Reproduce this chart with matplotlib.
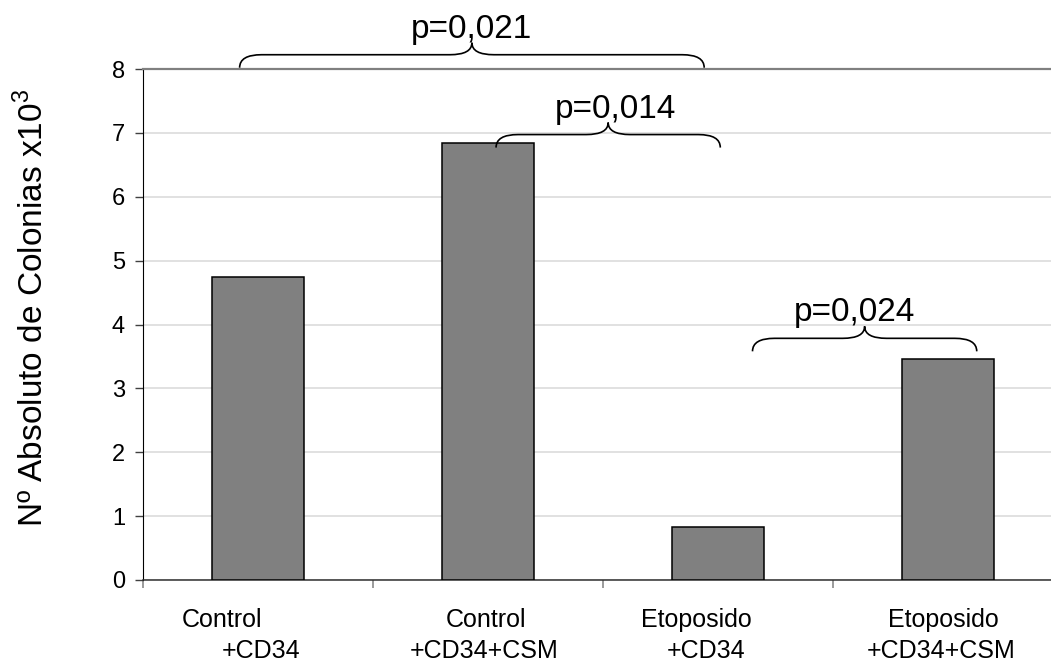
import numpy as np
import matplotlib
matplotlib.use("Agg")
import matplotlib.pyplot as plt
from matplotlib.path import Path
from matplotlib.patches import PathPatch

plt.rcParams['font.family'] = ['Liberation Sans', 'DejaVu Sans']
plt.rcParams['mathtext.fontset'] = 'custom'
plt.rcParams['mathtext.rm'] = 'Liberation Sans'

# data
line1 = ['Control', 'Control', 'Etoposido', 'Etoposido']
line2 = ['+CD34', '+CD34+CSM', '+CD34', '+CD34+CSM']
values = [4.75, 6.84, 0.83, 3.46]

# significance braces: (x start, x end, y of ends, label)
brace_x0 = [-0.08, 1.035, 2.15]
brace_x1 = [1.94, 2.01, 3.125]
brace_y = [8.02, 6.77, 3.58]
brace_labels = ['p=0,021', 'p=0,014', 'p=0,024']
label_dx = [0, 7, -10]   # px shift of the p text from the brace tip

fig = plt.figure(figsize=(10.51, 6.62), dpi=100)
ax = fig.add_axes([143 / 1051, 82 / 662, 920 / 1051, 511 / 662])

x = np.arange(len(values))
ax.bar(x, values, width=0.4, color='#808080', edgecolor='black', linewidth=1.1, zorder=3)

ax.set_xlim(-0.5, 3.5)
ax.set_ylim(0, 8)
ax.set_yticks(range(0, 9))
ax.tick_params(axis='y', labelsize=17, length=6, width=1, color='#404040', pad=7)
ax.yaxis.grid(True, color='#d9d9d9', linewidth=1.1)
ax.set_axisbelow(True)

ax.set_xticks([])
ax.set_xticks(np.arange(-0.5, 4.0, 1.0), minor=True)
ax.tick_params(axis='x', which='minor', length=6, width=1.1, color='#808080')

ax.spines['right'].set_visible(False)
ax.spines['top'].set_color('#808080')
ax.spines['top'].set_linewidth(1.6)
ax.spines['left'].set_color('black')
ax.spines['bottom'].set_color('#303030')
ax.spines['bottom'].set_linewidth(1.1)

# category labels, two lines with the excel-like stagger (offsets in px)
off1 = [-36, -2, -22, -5]
off2 = [3, -4, -12, -7]
for i in range(len(values)):
    ax.annotate(line1[i], xy=(x[i], 0), xycoords=('data', 'axes fraction'),
                xytext=(off1[i] * 0.72, -47 * 0.72), textcoords='offset points',
                ha='center', va='baseline', fontsize=18, annotation_clip=False)
    ax.annotate(line2[i], xy=(x[i], 0), xycoords=('data', 'axes fraction'),
                xytext=(off2[i] * 0.72, -78 * 0.72), textcoords='offset points',
                ha='center', va='baseline', fontsize=18, annotation_clip=False)

fig.text(33 / 1051, 1 - 308 / 662, 'Nº Absoluto de Colonias x10$^3$', rotation=90,
         ha='center', va='center', fontsize=24)


def brace(ax, x0, x1, y0, label, dx):
    # sizes in px converted to data units
    ux = 230.0
    uy = 511 / 8.0
    rx = 22 / ux
    yf = y0 + 13 / uy
    yt = y0 + 25 / uy
    xm = (x0 + x1) / 2
    verts = [(x0, y0), (x0, yf), (x0 + rx, yf),
             (xm - rx, yf), (xm, yf), (xm, yt),
             (xm, yf), (xm + rx, yf),
             (x1 - rx, yf), (x1, yf), (x1, y0)]
    codes = [Path.MOVETO, Path.CURVE3, Path.CURVE3,
             Path.LINETO, Path.CURVE3, Path.CURVE3,
             Path.CURVE3, Path.CURVE3,
             Path.LINETO, Path.CURVE3, Path.CURVE3]
    p = PathPatch(Path(verts, codes), facecolor='none', edgecolor='black',
                  linewidth=1.2, clip_on=False, zorder=5)
    ax.add_patch(p)
    ax.text(xm + dx / ux, yt + 5 / uy, label, ha='center', va='baseline',
            fontsize=24, clip_on=False)


for i in range(len(brace_labels)):
    brace(ax, brace_x0[i], brace_x1[i], brace_y[i], brace_labels[i], label_dx[i])

fig.savefig('out.png', dpi=100)
